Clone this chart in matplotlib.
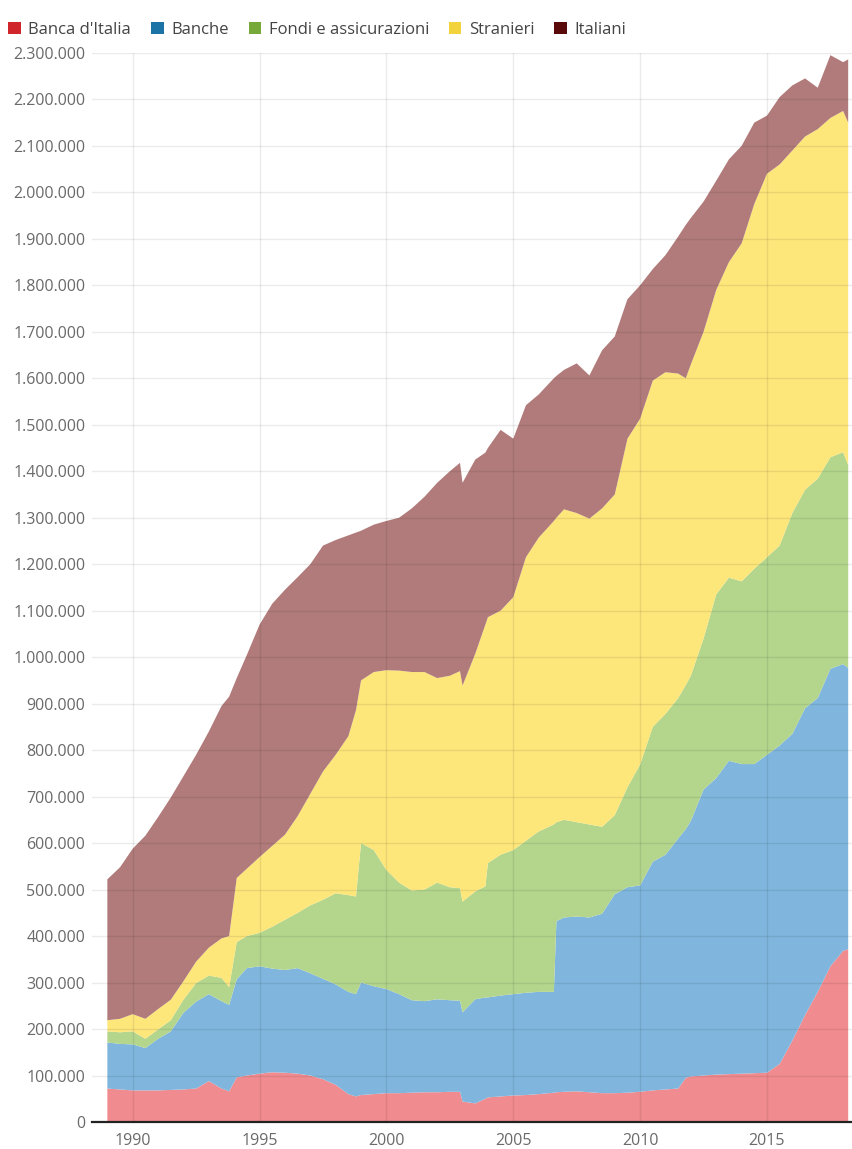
import matplotlib
matplotlib.use("Agg")
import matplotlib.pyplot as plt
from matplotlib.patches import Patch
from matplotlib.ticker import FuncFormatter, MultipleLocator

# Time axis (decimal years)
years = [1989.0, 1989.5, 1990.0, 1990.5, 1991.0, 1991.5, 1992.0, 1992.5, 1993.0, 1993.5,
         1993.8, 1994.1, 1994.5, 1995.0, 1995.5, 1996.0, 1996.5, 1997.0, 1997.5, 1998.0,
         1998.5, 1998.8, 1999.0, 1999.5, 2000.0, 2000.5, 2001.0, 2001.5, 2002.0, 2002.5,
         2002.9, 2003.0, 2003.5, 2003.9, 2004.0, 2004.5, 2005.0, 2005.5, 2006.0, 2006.6,
         2006.7, 2007.0, 2007.5, 2008.0, 2008.5, 2009.0, 2009.5, 2010.0, 2010.5, 2011.0,
         2011.5, 2011.8, 2012.0, 2012.5, 2013.0, 2013.5, 2014.0, 2014.5, 2015.0, 2015.5,
         2016.0, 2016.5, 2017.0, 2017.5, 2018.0, 2018.2]

# Holdings in thousands of euro (each series on its own, not cumulated)
banca_italia = [72, 70, 68, 68, 68, 69, 70, 72, 88, 72,
                66, 96, 100, 104, 107, 106, 104, 100, 92, 80,
                60, 55, 58, 60, 62, 62, 63, 64, 64, 65,
                65, 44, 40, 50, 53, 55, 57, 58, 60, 63,
                64, 65, 66, 64, 62, 62, 63, 65, 68, 70,
                72, 95, 98, 100, 102, 103, 104, 105, 106, 125,
                175, 230, 280, 335, 368, 372]
banche = [99, 98, 99, 91, 111, 126, 165, 187, 187, 188,
          186, 211, 231, 231, 223, 221, 227, 220, 216, 216,
          220, 220, 242, 232, 224, 213, 199, 196, 200, 197,
          196, 192, 224, 218, 215, 217, 218, 220, 220, 217,
          368, 375, 376, 376, 386, 428, 442, 444, 492, 505,
          538, 535, 550, 615, 638, 674, 666, 665, 684, 685,
          660, 660, 632, 640, 617, 605]
fondi = [24, 25, 28, 20, 20, 24, 28, 40, 40, 50,
         38, 80, 69, 72, 90, 108, 119, 146, 170, 196,
         208, 210, 300, 293, 256, 240, 236, 240, 251, 243,
         242, 238, 232, 239, 289, 303, 310, 327, 345, 360,
         213, 210, 203, 200, 187, 170, 215, 260, 290, 303,
         302, 310, 312, 325, 395, 394, 393, 420, 425, 430,
         475, 470, 472, 455, 456, 436]
stranieri = [24, 29, 37, 43, 44, 44, 40, 46, 60, 85,
             110, 138, 145, 163, 174, 183, 208, 240, 276, 298,
             342, 401, 350, 383, 430, 456, 470, 468, 440, 455,
             467, 465, 511, 563, 529, 525, 544, 610, 632, 653,
             655, 668, 665, 658, 685, 690, 750, 744, 745, 735,
             698, 660, 670, 660, 655, 679, 727, 785, 825, 820,
             780, 760, 752, 730, 734, 737]
italiani = [303, 326, 356, 394, 413, 435, 441, 445, 465, 500,
            515, 430, 460, 500, 521, 527, 514, 494, 486, 462,
            432, 382, 322, 317, 321, 329, 352, 377, 420, 440,
            448, 436, 418, 370, 364, 389, 341, 327, 308, 307,
            305, 300, 322, 308, 340, 340, 300, 287, 240, 252,
            295, 330, 315, 280, 235, 221, 210, 175, 125, 145,
            140, 125, 89, 135, 105, 136]

labels = ["Banca d'Italia", "Banche", "Fondi e assicurazioni", "Stranieri", "Italiani"]
fill_colors = ["#F08B8F", "#80B6DD", "#B3D58C", "#FDE67A", "#B07B7A"]
legend_colors = ["#D0262B", "#1C74A6", "#76A83A", "#F3D33C", "#5A0A0A"]

series = [[v * 1000 for v in s] for s in (banca_italia, banche, fondi, stranieri, italiani)]

plt.rcParams["font.family"] = ["Open Sans", "DejaVu Sans"]

fig = plt.figure(figsize=(8.53, 11.49), dpi=100)
ax = fig.add_axes([0.108, 0.0235, 0.892, 0.9305])

ax.stackplot(years, *series, colors=fill_colors, linewidth=0)

ax.set_xlim(1988.4, 2018.39)
ax.set_ylim(0, 2300000)
ax.yaxis.set_major_locator(MultipleLocator(100000))
ax.xaxis.set_major_locator(MultipleLocator(5))
ax.yaxis.set_major_formatter(FuncFormatter(lambda v, p: f"{int(v):,}".replace(",", ".")))
ax.xaxis.set_major_formatter(FuncFormatter(lambda v, p: f"{int(v)}"))

# grid sits over the areas, faintly
ax.set_axisbelow(False)
ax.grid(True, color="#000000", alpha=0.08, linewidth=1)

for side in ("top", "right", "left"):
    ax.spines[side].set_visible(False)
ax.spines["bottom"].set_color("#222222")
ax.spines["bottom"].set_linewidth(1.6)
ax.spines["bottom"].set_zorder(5)

ax.tick_params(axis="both", length=0, labelsize=11.5, labelcolor="#6a6a6a")
ax.tick_params(axis="y", pad=5)
ax.tick_params(axis="x", pad=8)

handles = [Patch(facecolor=c, edgecolor="none") for c in legend_colors]
fig.legend(handles, labels, loc="upper left", bbox_to_anchor=(0.002, 0.987), ncol=5,
           frameon=False, fontsize=12, handlelength=0.75, handleheight=0.75,
           handletextpad=0.45, columnspacing=1.2, labelcolor="#444444", borderaxespad=0)

fig.savefig("out.png", dpi=100)
